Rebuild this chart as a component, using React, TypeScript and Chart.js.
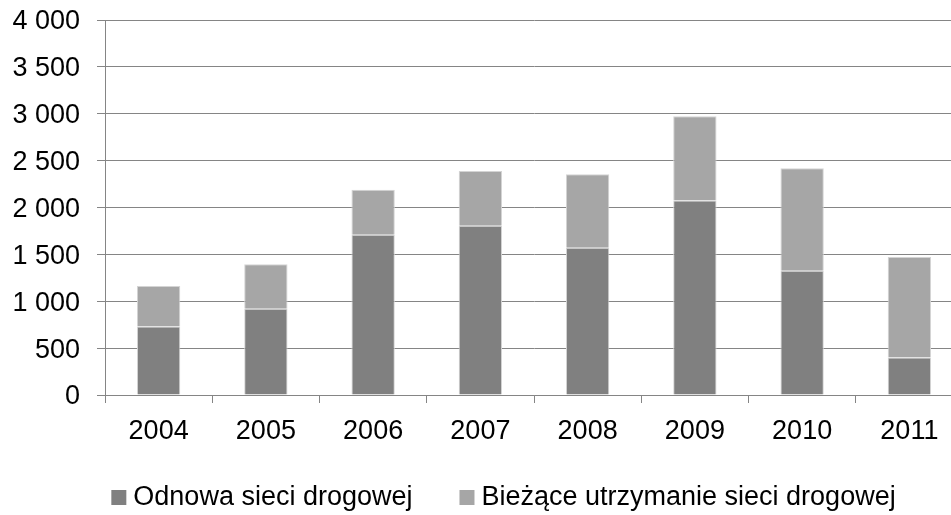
import React, { useEffect, useRef } from "react";
import { Chart, registerables } from "chart.js";

Chart.register(...registerables);

const years = ["2004", "2005", "2006", "2007", "2008", "2009", "2010", "2011"];
const odnowa = [730, 920, 1710, 1805, 1570, 2075, 1325, 400];
const biezace = [433, 475, 480, 585, 785, 898, 1095, 1072];
const seriesNames = ["Odnowa sieci drogowej", "Bieżące utrzymanie sieci drogowej"];
const seriesColors = ["#808080", "#a6a6a6"];

const FONT = "'Liberation Sans', Arial, sans-serif";
const FONT_SIZE = 27;
const GRID = "#858585";

const fmt = (v: number) => String(v).replace(/\B(?=(\d{3})+(?!\d))/g, " ");

const legendPlugin = {
  id: "customLegend",
  afterDraw(chart: any) {
    const ctx = chart.ctx;
    const box = 15;
    const gapText = 7;
    const gapItem = 47;
    ctx.save();
    ctx.font = `${FONT_SIZE}px ${FONT}`;
    ctx.textBaseline = "middle";
    ctx.textAlign = "left";
    const items = chart.data.datasets.map((d: any) => ({
      text: d.label,
      color: d.backgroundColor,
      w: box + gapText + ctx.measureText(d.label).width,
    }));
    const total = items.reduce((s: number, it: any) => s + it.w, 0) + gapItem * (items.length - 1);
    let x = chart.width / 2 - total / 2;
    const cy = 497.5;
    items.forEach((it: any) => {
      ctx.fillStyle = it.color;
      ctx.fillRect(x, cy - box / 2, box, box);
      ctx.fillStyle = "#000";
      ctx.fillText(it.text, x + box + gapText, cy);
      x += it.w + gapItem;
    });
    ctx.restore();
  },
};

export default function App() {
  const ref = useRef<HTMLCanvasElement>(null);
  useEffect(() => {
    document.body.style.overflow = "hidden";
    const chart = new Chart(ref.current!, {
      type: "bar",
      data: {
        labels: years,
        datasets: [
          {
            label: seriesNames[0],
            data: odnowa,
            backgroundColor: seriesColors[0],
            borderColor: "#d4d4d4",
            borderWidth: 1,
            barPercentage: 0.404,
            categoryPercentage: 1,
          },
          {
            label: seriesNames[1],
            data: biezace,
            backgroundColor: seriesColors[1],
            borderColor: "#d4d4d4",
            borderWidth: 1,
            barPercentage: 0.404,
            categoryPercentage: 1,
          },
        ],
      },
      options: {
        animation: false,
        responsive: false,
        layout: { padding: { top: 20, right: 44, bottom: 68, left: 0 } },
        plugins: { legend: { display: false }, tooltip: { enabled: false } },
        scales: {
          x: {
            stacked: true,
            afterFit: (s: any) => {
              s.height = 52;
              s.paddingLeft = 0;
              s.paddingRight = 0;
            },
            grid: {
              display: true,
              offset: true,
              drawOnChartArea: false,
              drawTicks: true,
              tickLength: 8,
              color: GRID,
            },
            border: { display: true, color: GRID, width: 1 },
            ticks: {
              color: "#000",
              padding: 12,
              font: { family: FONT, size: FONT_SIZE },
              maxRotation: 0,
              autoSkip: false,
            },
          },
          y: {
            stacked: true,
            min: 0,
            max: 4000,
            afterFit: (s: any) => {
              s.width = 105;
              s.paddingTop = 0;
              s.paddingBottom = 0;
            },
            grid: {
              color: GRID,
              lineWidth: 1,
              drawTicks: true,
              tickLength: 8,
            },
            border: { display: true, color: GRID, width: 1 },
            ticks: {
              stepSize: 500,
              color: "#000",
              padding: 17,
              labelOffset: 2,
              font: { family: FONT, size: FONT_SIZE },
              callback: (v: any) => fmt(Number(v)),
            },
          },
        },
      },
      plugins: [legendPlugin],
    });
    return () => chart.destroy();
  }, []);
  return (
    <div style={{ position: "fixed", left: 0, top: 0, width: 1007, height: 515, background: "#fff" }}>
      <canvas ref={ref} width={1007} height={515} style={{ display: "block" }} />
    </div>
  );
}
